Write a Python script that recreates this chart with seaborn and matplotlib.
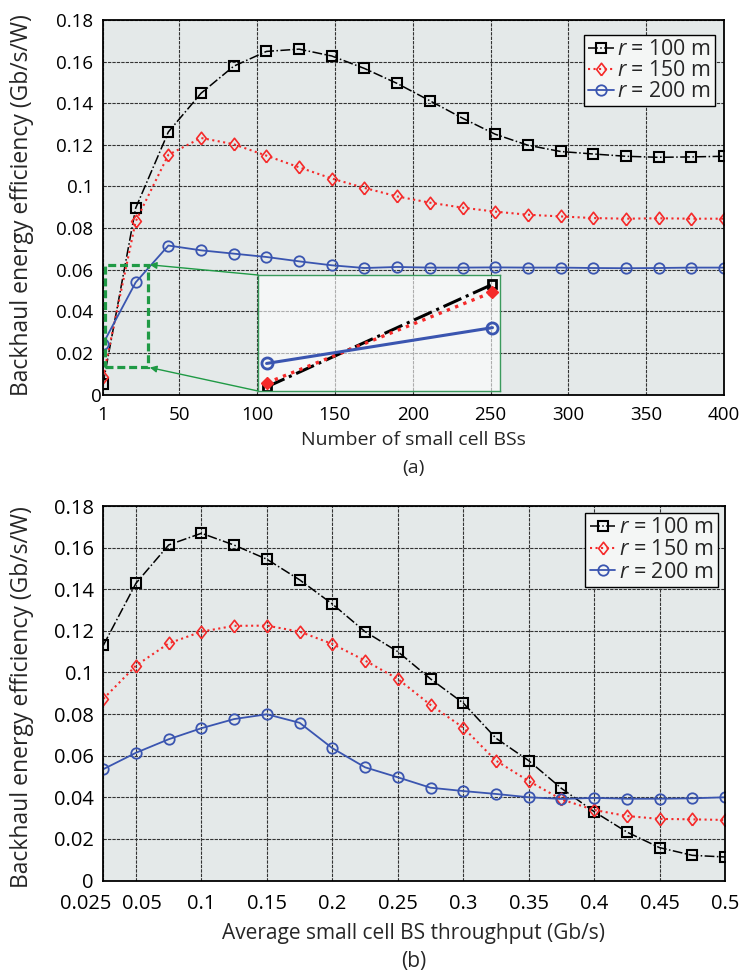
import numpy as np
import pandas as pd
import matplotlib
matplotlib.use("Agg")
import matplotlib.pyplot as plt
import seaborn as sns
from matplotlib.patches import Rectangle
from matplotlib.transforms import ScaledTranslation

# ---------------- data ----------------
n_bs = [1, 22, 43, 64, 85, 106, 127, 148, 169, 190, 211, 232, 253, 274, 295,
        316, 337, 358, 379, 400]
ee_a_100 = [0.0050, 0.0896, 0.1262, 0.1448, 0.1578, 0.1649, 0.1660, 0.1627,
            0.1567, 0.1495, 0.1412, 0.1328, 0.1251, 0.1198, 0.1168, 0.1156,
            0.1145, 0.1140, 0.1142, 0.1145]
ee_a_150 = [0.0083, 0.0832, 0.1152, 0.1233, 0.1203, 0.1148, 0.1092, 0.1038,
            0.0993, 0.0952, 0.0922, 0.0898, 0.0879, 0.0864, 0.0856, 0.0848,
            0.0845, 0.0847, 0.0845, 0.0845]
ee_a_200 = [0.0244, 0.0539, 0.0716, 0.0693, 0.0677, 0.0661, 0.0640, 0.0621,
            0.0608, 0.0613, 0.0610, 0.0610, 0.0611, 0.0610, 0.0610, 0.0608,
            0.0607, 0.0608, 0.0610, 0.0610]

thr = [0.025, 0.05, 0.075, 0.1, 0.125, 0.15, 0.175, 0.2, 0.225, 0.25, 0.275,
       0.3, 0.325, 0.35, 0.375, 0.4, 0.425, 0.45, 0.475, 0.5]
ee_b_100 = [0.1130, 0.1429, 0.1613, 0.1669, 0.1612, 0.1544, 0.1445, 0.1329,
            0.1196, 0.1100, 0.0969, 0.0853, 0.0684, 0.0576, 0.0443, 0.0331,
            0.0233, 0.0158, 0.0121, 0.0113]
ee_b_150 = [0.0873, 0.1033, 0.1140, 0.1196, 0.1224, 0.1225, 0.1196, 0.1137,
            0.1057, 0.0969, 0.0844, 0.0735, 0.0576, 0.0478, 0.0390, 0.0339,
            0.0310, 0.0296, 0.0294, 0.0291]
ee_b_200 = [0.0535, 0.0614, 0.0679, 0.0732, 0.0776, 0.0799, 0.0758, 0.0636,
            0.0544, 0.0496, 0.0446, 0.0430, 0.0416, 0.0400, 0.0392, 0.0397,
            0.0393, 0.0393, 0.0395, 0.0400]

series_labels = [r"$r$ = 100 m", r"$r$ = 150 m", r"$r$ = 200 m"]
xticks_a = [1, 50, 100, 150, 200, 250, 300, 350, 400]
xticks_b = [0.025, 0.05, 0.1, 0.15, 0.2, 0.25, 0.3, 0.35, 0.4, 0.45, 0.5]
xticklabels_b = ["0.025", "0.05", "0.1", "0.15", "0.2", "0.25", "0.3", "0.35",
                 "0.4", "0.45", "0.5"]
yticks = [0, 0.02, 0.04, 0.06, 0.08, 0.1, 0.12, 0.14, 0.16, 0.18]
yticklabels = ["0", "0.02", "0.04", "0.06", "0.08", "0.1", "0.12", "0.14",
               "0.16", "0.18"]

# ---------------- style ----------------
sns.set_theme(style="white")
plt.rcParams["font.family"] = ["Open Sans", "DejaVu Sans"]
plt.rcParams["mathtext.fontset"] = "custom"
plt.rcParams["mathtext.it"] = "Open Sans:italic"
plt.rcParams["mathtext.rm"] = "Open Sans"

BLACK = "#000000"
RED = "#f52a2a"
BLUE = "#3a55b0"
GREEN = "#1f9a45"
BG = "#e4e9e9"
GRID = "#333333"

DIAMOND = [(0, -1), (0.78, 0), (0, 1), (-0.78, 0), (0, -1)]

styles = [
    dict(color=BLACK, linestyle="-.", lw=1.1, marker="s", markersize=6.5,
         markerfacecolor="none", markeredgecolor=BLACK, markeredgewidth=1.5),
    dict(color=RED, linestyle=":", lw=1.5, marker=DIAMOND, markersize=9,
         markerfacecolor="none", markeredgecolor=RED, markeredgewidth=1.2),
    dict(color=BLUE, linestyle="-", lw=1.3, marker="o", markersize=7.5,
         markerfacecolor="none", markeredgecolor=BLUE, markeredgewidth=1.3),
]

W, H = 746, 976
fig = plt.figure(figsize=(W / 100, H / 100), dpi=100)


def frac(x0, y0, x1, y1):
    return [x0 / W, 1 - y1 / H, (x1 - x0) / W, (y1 - y0) / H]


ax_a = fig.add_axes(frac(103, 20, 724, 394.5))
ax_b = fig.add_axes(frac(103.3, 506, 725, 880.5))


def style_axes(ax, tick_fs, xpad, ypad):
    ax.set_facecolor(BG)
    ax.set_axisbelow(True)
    ax.grid(True, color=GRID, lw=0.8, ls=(0, (3, 1)))
    for s in ax.spines.values():
        s.set_visible(True)
        s.set_color("black")
        s.set_linewidth(1.3)
    ax.tick_params(axis="both", length=0, labelsize=tick_fs, colors="black")
    ax.tick_params(axis="x", pad=xpad)
    ax.tick_params(axis="y", pad=ypad)
    ax.set_xlabel("")
    ax.set_ylabel("")


def shift_label(lbl, dx_px, dy_px=0):
    lbl.set_transform(lbl.get_transform() +
                      ScaledTranslation(dx_px / 100, dy_px / 100,
                                        fig.dpi_scale_trans))


# ---------------- panel (a) ----------------
for ys, st, lab in zip([ee_a_100, ee_a_150, ee_a_200], styles, series_labels):
    sns.lineplot(x=n_bs, y=ys, ax=ax_a, label=lab, legend=False,
                 errorbar=None, **st)
ax_a.set_xlim(1, 400)
ax_a.set_ylim(0, 0.18)
ax_a.set_xticks(xticks_a)
ax_a.set_xticklabels([str(v) for v in xticks_a])
ax_a.set_yticks(yticks)
ax_a.set_yticklabels(yticklabels)
style_axes(ax_a, 13.5, 8.5, 7)
shift_label(ax_a.get_yticklabels()[0], 8)

leg = ax_a.legend(handles=ax_a.lines[:3], labels=series_labels,
                  loc="upper right", bbox_to_anchor=(0.9855, 0.96),
                  borderaxespad=0, fontsize=15.3, handlelength=1.2,
                  handletextpad=0.15, labelspacing=0.0, borderpad=0.2,
                  fancybox=False, framealpha=1, facecolor="#f4f6f5",
                  edgecolor="black")
leg.get_frame().set_linewidth(1.0)

# zoom box and inset
ax_a.add_patch(Rectangle((2.3, 0.0131), 27.9, 0.0493, fill=False,
                         ec=GREEN, lw=2.3, ls=(0, (2.5, 1.2)), zorder=4))
axins = fig.add_axes(frac(258, 275, 500, 391))
axins.set_facecolor((1, 1, 1, 0.6))
ins_styles = [
    dict(color=BLACK, linestyle="-.", lw=2.2, marker="s", markersize=6,
         markerfacecolor="none", markeredgecolor=BLACK, markeredgewidth=2),
    dict(color=RED, linestyle=":", lw=2.4, marker="D", markersize=6,
         markerfacecolor=RED, markeredgecolor=RED, markeredgewidth=1),
    dict(color=BLUE, linestyle="-", lw=2.2, marker="o", markersize=8,
         markerfacecolor="none", markeredgecolor=BLUE, markeredgewidth=2),
]
for ys, st in zip([ee_a_100, ee_a_150, ee_a_200], ins_styles):
    sns.lineplot(x=n_bs[:2], y=ys[:2], ax=axins, legend=False,
                 errorbar=None, **st)
axins.set_xlim(0.2, 22.7)
axins.set_ylim(0.0017, 0.0973)
axins.set_xticks([])
axins.set_yticks([])
axins.set_xlabel("")
axins.set_ylabel("")
for s in axins.spines.values():
    s.set_visible(True)
    s.set_color("#3a9a5c")
    s.set_linewidth(1.0)

for (px, py), (ix, iy) in [((30.2, 0.0624), (0, 1)), ((30.2, 0.0131), (0, 0))]:
    ax_a.annotate("", xy=(px, py), xycoords="data",
                  xytext=(ix, iy), textcoords=axins.transAxes,
                  arrowprops=dict(arrowstyle="-|>", color=GREEN, lw=1.0,
                                  mutation_scale=10, shrinkA=0, shrinkB=1))

# ---------------- panel (b) ----------------
for ys, st, lab in zip([ee_b_100, ee_b_150, ee_b_200], styles, series_labels):
    sns.lineplot(x=thr, y=ys, ax=ax_b, label=lab, legend=False,
                 errorbar=None, **st)
ax_b.set_xlim(0.025, 0.5)
ax_b.set_ylim(0, 0.18)
ax_b.set_xticks(xticks_b)
ax_b.set_xticklabels(xticklabels_b)
ax_b.set_yticks(yticks)
ax_b.set_yticklabels(yticklabels)
style_axes(ax_b, 14.5, 10, 7)
xl = ax_b.get_xticklabels()
shift_label(xl[0], -18)
shift_label(xl[1], 6)

leg_b = ax_b.legend(handles=ax_b.lines[:3], labels=series_labels,
                    loc="upper right", bbox_to_anchor=(0.988, 0.981),
                    borderaxespad=0, fontsize=15.5, handlelength=1.2,
                    handletextpad=0.15, labelspacing=0.05, borderpad=0.2,
                    fancybox=False, framealpha=1, facecolor="#f4f6f5",
                    edgecolor="black")
leg_b.get_frame().set_linewidth(1.0)

# ---------------- labels ----------------
fig.text(22 / W, 1 - 205 / H, "Backhaul energy efficiency (Gb/s/W)",
         rotation=90, ha="center", va="center", fontsize=16.5)
fig.text(22 / W, 1 - 697 / H, "Backhaul energy efficiency (Gb/s/W)",
         rotation=90, ha="center", va="center", fontsize=16.5)
fig.text(413.5 / W, 1 - 440 / H, "Number of small cell BSs",
         ha="center", va="center", fontsize=14)
fig.text(413.5 / W, 1 - 468 / H, "(a)", ha="center", va="center", fontsize=14)
fig.text(414 / W, 1 - 933 / H, "Average small cell BS throughput (Gb/s)",
         ha="center", va="center", fontsize=15)
fig.text(414 / W, 1 - 962 / H, "(b)", ha="center", va="center", fontsize=15)

fig.savefig("out.png", dpi=100, facecolor="white")
